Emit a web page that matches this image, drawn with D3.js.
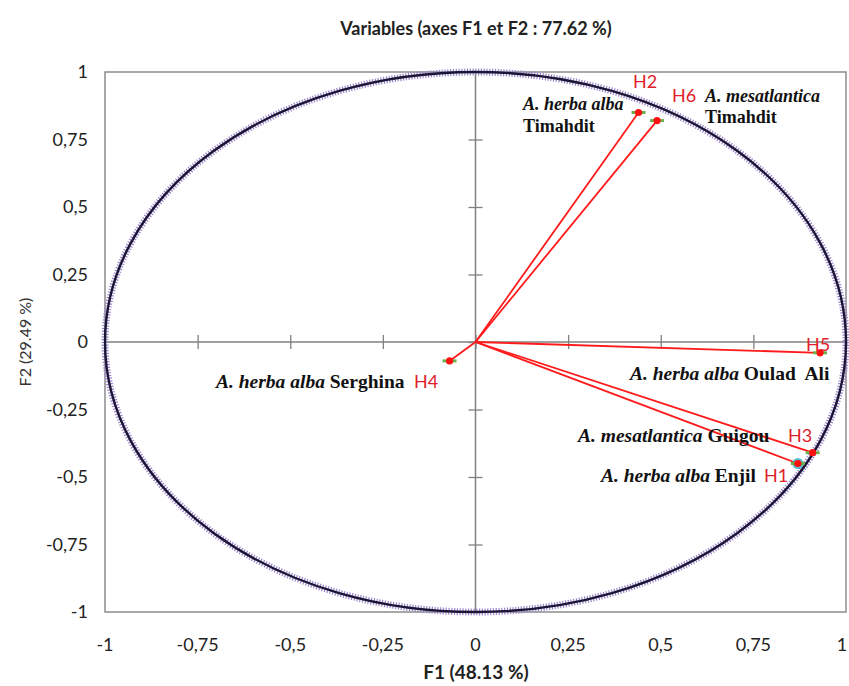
<!DOCTYPE html>
<html>
<head>
<meta charset="utf-8">
<script src="https://cdn.jsdelivr.net/npm/d3@7"></script>
<style>
  html, body { margin: 0; padding: 0; background: #fff; }
  svg { display: block; }
</style>
</head>
<body>
<svg id="chart" width="849" height="686"></svg>
<script>
// Variable coordinates on the first two factorial axes
const codes   = ["H1", "H2", "H3", "H4", "H5", "H6"];
const f1      = [0.87, 0.44, 0.91, -0.07, 0.93, 0.49];
const f2      = [-0.45, 0.85, -0.41, -0.07, -0.04, 0.82];
const species = ["A. herba alba", "A. herba alba", "A. mesatlantica", "A. herba alba", "A. herba alba", "A. mesatlantica"];
const sites   = ["Enjil", "Timahdit", "Guigou", "Serghina", "Oulad  Ali", "Timahdit"];

const tickValues = [-1, -0.75, -0.5, -0.25, 0, 0.25, 0.5, 0.75, 1];
const tickLabels = ["-1", "-0,75", "-0,5", "-0,25", "0", "0,25", "0,5", "0,75", "1"];

const titleText = "Variables (axes F1 et F2 : 77.62 %)";
const xTitle = "F1 (48.13 %)";
const yTitle = "F2 (29.49 %)";

const svg = d3.select("#chart");
const plotLeft = 105, plotRight = 846, plotTop = 72, plotBottom = 612;

const x = d3.scaleLinear().domain([-1, 1]).range([plotLeft, plotRight]);
const y = d3.scaleLinear().domain([-1, 1]).range([plotBottom, plotTop]);

const sansFont = "Lato, 'Open Sans', sans-serif";
const serifFont = "'Liberation Serif', 'DejaVu Serif', serif";

// Title
svg.append("text")
  .attr("x", 476).attr("y", 35)
  .attr("text-anchor", "middle")
  .style("font-family", sansFont).style("font-weight", "bold").style("font-size", "18px")
  .attr("fill", "#222")
  .text(titleText);

// Plot frame
svg.append("rect")
  .attr("x", plotLeft).attr("y", plotTop)
  .attr("width", plotRight - plotLeft).attr("height", plotBottom - plotTop)
  .attr("fill", "none").attr("stroke", "#8c8c8c").attr("stroke-width", 1.5);

// Tick labels along the outer edges
svg.append("g").selectAll("text").data(tickValues).join("text")
  .attr("x", d => Math.min(x(d), 842)).attr("y", 651)
  .attr("text-anchor", "middle")
  .style("font-family", sansFont).style("font-size", "18px").attr("fill", "#222")
  .text((d, i) => tickLabels[i]);

svg.append("g").selectAll("text").data(tickValues).join("text")
  .attr("x", 88).attr("y", d => y(d) + 6)
  .attr("text-anchor", "end")
  .style("font-family", sansFont).style("font-size", "18px").attr("fill", "#222")
  .text((d, i) => tickLabels[i]);

// Axis titles
svg.append("text")
  .attr("x", 476).attr("y", 679)
  .attr("text-anchor", "middle")
  .style("font-family", sansFont).style("font-weight", "bold").style("font-size", "19px")
  .attr("fill", "#222")
  .text(xTitle);

svg.append("text")
  .attr("transform", `translate(31, ${y(0)}) rotate(-90)`)
  .attr("text-anchor", "middle")
  .style("font-family", sansFont).style("font-size", "16px")
  .attr("fill", "#333")
  .text(yTitle);

// Zero axes with crossing ticks
const axisColor = "#808080";
const hAxis = d3.axisBottom(x).tickValues(tickValues).tickSize(14).tickFormat("");
const gh = svg.append("g").attr("transform", `translate(0, ${y(0) - 7})`).call(hAxis);
gh.select(".domain").remove();
gh.selectAll(".tick line").attr("stroke", axisColor).attr("stroke-width", 1.3);
svg.append("line")
  .attr("x1", plotLeft).attr("x2", plotRight).attr("y1", y(0)).attr("y2", y(0))
  .attr("stroke", axisColor).attr("stroke-width", 1.5);

const vAxis = d3.axisRight(y).tickValues(tickValues).tickSize(14).tickFormat("");
const gv = svg.append("g").attr("transform", `translate(${x(0) - 7}, 0)`).call(vAxis);
gv.select(".domain").remove();
gv.selectAll(".tick line").attr("stroke", axisColor).attr("stroke-width", 1.3);
svg.append("line")
  .attr("x1", x(0)).attr("x2", x(0)).attr("y1", plotTop).attr("y2", plotBottom)
  .attr("stroke", axisColor).attr("stroke-width", 1.5);

// Correlation circle: purple marker texture under a dark outline
const cx = x(0), cy = y(0), rx = x(1) - x(0), ry = y(0) - y(1);
svg.append("ellipse")
  .attr("cx", cx).attr("cy", cy).attr("rx", rx).attr("ry", ry)
  .attr("fill", "none").attr("stroke", "#9a86cc").attr("stroke-width", 7)
  .attr("stroke-dasharray", "1.2 1.6");
svg.append("ellipse")
  .attr("cx", cx).attr("cy", cy).attr("rx", rx).attr("ry", ry)
  .attr("fill", "none").attr("stroke", "#1c1636").attr("stroke-width", 2.4);

// Vectors
const pts = codes.map((c, i) => ({ code: c, f1: f1[i], f2: f2[i], sp: species[i], site: sites[i] }));

svg.append("g").selectAll("line").data(pts).join("line")
  .attr("x1", x(0)).attr("y1", y(0))
  .attr("x2", d => x(d.f1)).attr("y2", d => y(d.f2))
  .attr("stroke", "#ff1a1a").attr("stroke-width", 1.8);

// Point markers
const mk = svg.append("g").selectAll("g").data(pts).join("g")
  .attr("transform", d => `translate(${x(d.f1)}, ${y(d.f2)})`);
mk.filter(d => d.code === "H1").append("circle")
  .attr("r", 5.5).attr("fill", "#2ab0c8").attr("opacity", 0.8);
mk.append("line").attr("x1", -7).attr("x2", 7).attr("y1", 0).attr("y2", 0)
  .attr("stroke", "#6ab04c").attr("stroke-width", 3);
mk.append("circle").attr("r", 3.6).attr("fill", "#ff1010");

// Labels (code, species line, site line positions and sizes)
const labelCfg = {
  H2: { code: [633, 88], name: [523, 110], site: [523, 132], twoLine: true, size: 18 },
  H6: { code: [672, 102], name: [705, 102], site: [705, 123], twoLine: true, size: 18 },
  H4: { code: [414, 388], name: [216, 388], size: 19.5 },
  H5: { code: [806, 351], name: [630, 380], size: 19.5 },
  H3: { code: [788, 442], name: [578, 442], size: 19.5 },
  H1: { code: [764, 482], name: [601, 482], size: 19.5 }
};

pts.forEach(d => {
  const c = labelCfg[d.code];
  svg.append("text")
    .attr("x", c.code[0]).attr("y", c.code[1])
    .style("font-family", sansFont).style("font-size", "18px")
    .attr("fill", "#e0202a")
    .text(d.code);

  const t = svg.append("text")
    .attr("x", c.name[0]).attr("y", c.name[1])
    .style("font-family", serifFont).style("font-size", c.size + "px")
    .style("font-weight", "bold").attr("fill", "#111");
  t.append("tspan").style("font-style", "italic").text(d.sp);
  if (c.twoLine) {
    svg.append("text")
      .attr("x", c.site[0]).attr("y", c.site[1])
      .style("font-family", serifFont).style("font-size", c.size + "px")
      .style("font-weight", "bold").attr("fill", "#111")
      .text(d.site);
  } else {
    t.append("tspan").style("white-space", "pre").text(" " + d.site);
  }
});
</script>
</body>
</html>
